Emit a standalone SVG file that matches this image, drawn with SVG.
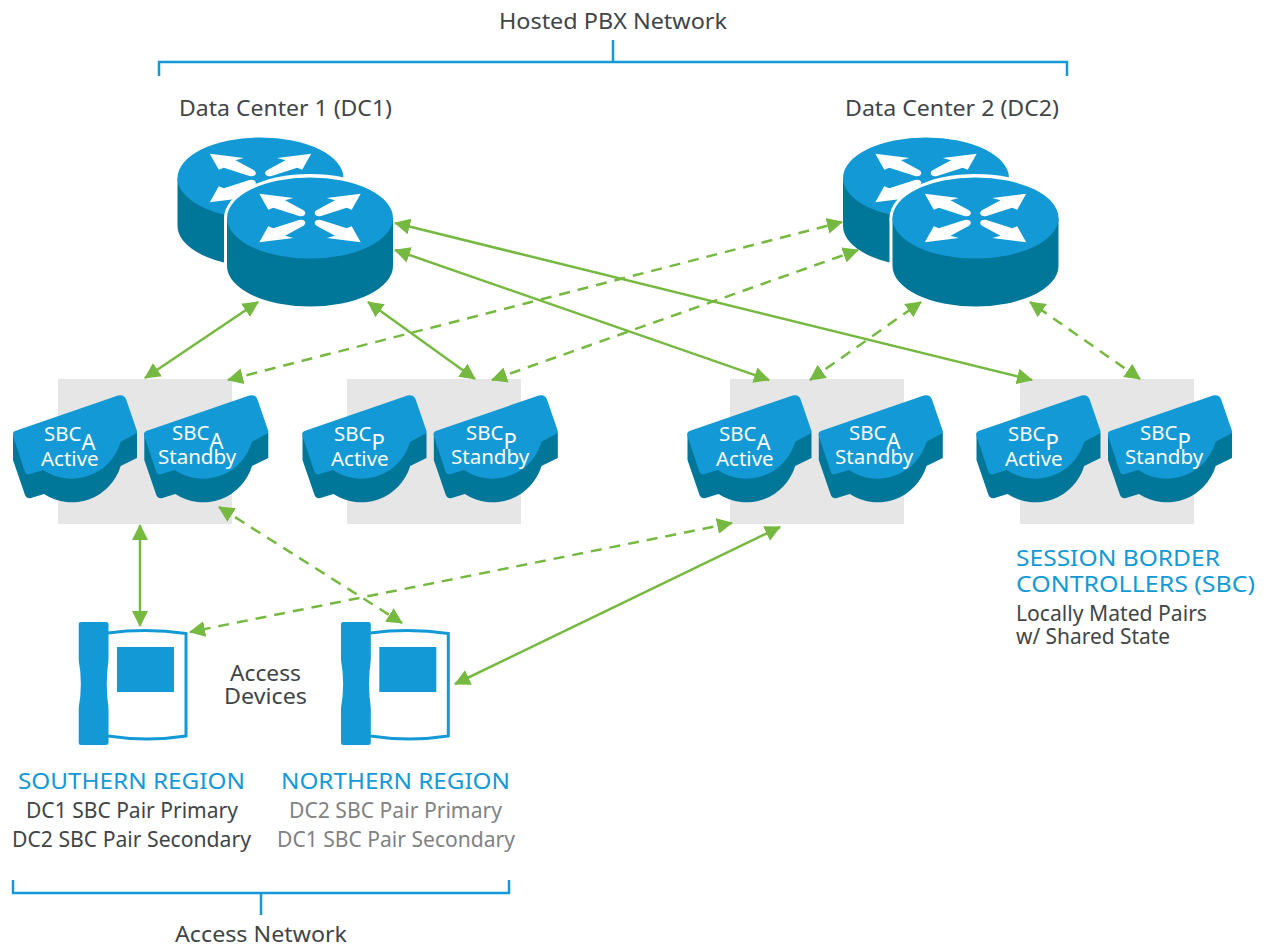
<svg xmlns="http://www.w3.org/2000/svg" xmlns:xlink="http://www.w3.org/1999/xlink" width="1267" height="947" viewBox="0 0 1267 947">
<style>
text{font-family:"Noto Sans","Open Sans",sans-serif;font-size:22px;fill:#414546}
.blue{fill:#139ad6}.grey{fill:#808284}
.s{font-size:20.5px;fill:#fff}
.sub{font-size:22px;fill:#fff}
.bracket{fill:none;stroke:#139ad6;stroke-width:2.5}
.bg{fill:#e6e6e6}
.top{fill:#139ad6}.side{fill:#007799}
.c{stroke:#76b941;stroke-width:2.5;fill:none;marker-start:url(#ah);marker-end:url(#ah)}
.d{stroke-dasharray:11 8}
</style>
<defs>
<marker id="ah" markerUnits="userSpaceOnUse" markerWidth="18" markerHeight="18" refX="15" refY="9" orient="auto-start-reverse" viewBox="0 0 18 18"><path d="M0 1 L16 9 L0 17 Z" fill="#76b941"/></marker>
<path id="ra" d="M-50.7-24.3 L-16.7-20 L-25-17.7 L-6.5-7.7 Q-3-5-6-2.5 Q-8-1.3-11-2 L-36.7-10.3 L-41.7-8.3 Z" fill="#fff"/>
<g id="router">
<path class="side" d="M-83 0 V48 A83 40.5 0 0 0 83 48 V0 Z"/>
<ellipse class="top" rx="83" ry="40.5"/>
<use xlink:href="#ra"/><use xlink:href="#ra" transform="scale(-1 1)"/><use xlink:href="#ra" transform="scale(1 -1)"/><use xlink:href="#ra" transform="scale(-1 -1)"/>
</g>
<g id="sbc">
<path class="side" d="M13 433 V460 L25 495 Q27 499 31 498 L44 494 A51 51 0 0 0 120.700 466 L137 458 V433 Z"/>
<path class="top" d="M13 433 Q13 432 15 431 L118 395.500 Q124 394 126 399 L137 431 V433 L120.700 441.700 A51 51 0 0 1 43.300 470 L30 474 Q26 475 25 472 L13 436 Z"/>
</g>
<g id="phone">
<path d="M108 633 Q147 628 186 633.500 V736 Q147 742 108 736" fill="#fff" stroke="#139ad6" stroke-width="3"/>
<rect x="117" y="647" width="57" height="45" fill="#139ad6"/>
<path d="M81 622 H106 Q108.500 622 108.500 624 V660 Q105 684 108.500 708 V743 Q108.500 745 106 745 H81 Q78.700 745 78.700 743 V708 Q83 684 78.700 660 V624 Q78.700 622 81 622 Z" fill="#139ad6"/>
</g>
</defs>
<g id="bracket-top"><path class="bracket" d="M159 76 V62 H1067 V76 M613 40 V62"/><text x="499" y="29" textLength="228" lengthAdjust="spacingAndGlyphs">Hosted PBX Network</text></g>
<g id="dc1">
<use xlink:href="#router" x="260.500" y="178"/>
<ellipse cx="310" cy="218" rx="86" ry="44" fill="#fff"/><rect x="224" y="218" width="172" height="48" fill="#fff"/>
<use xlink:href="#router" x="310" y="218"/>
<text x="179" y="116" textLength="213" lengthAdjust="spacingAndGlyphs">Data Center 1 (DC1)</text></g>
<g id="dc2">
<use xlink:href="#router" x="926" y="178"/>
<ellipse cx="975.500" cy="218" rx="86" ry="44" fill="#fff"/><rect x="889.500" y="218" width="172" height="48" fill="#fff"/>
<use xlink:href="#router" x="975.500" y="218"/>
<text x="845" y="116" textLength="214" lengthAdjust="spacingAndGlyphs">Data Center 2 (DC2)</text></g>
<g id="pairs-bg"><rect class="bg" x="58" y="379" width="174" height="145"/><rect class="bg" x="347" y="379" width="174" height="145"/><rect class="bg" x="730" y="379" width="174" height="145"/><rect class="bg" x="1020" y="379" width="174" height="145"/></g>
<g id="sbc1"><use xlink:href="#sbc"/><text class="s" x="44" y="441">SBC<tspan class="sub" dy="9">A</tspan></text><text class="s" x="41" y="466">Active</text></g>
<g id="sbc2"><use xlink:href="#sbc" x="131.300"/><text class="s" x="172" y="440">SBC<tspan class="sub" dy="9">A</tspan></text><text class="s" x="158" y="464">Standby</text></g>
<g id="sbc3"><use xlink:href="#sbc" x="289.500"/><text class="s" x="334" y="441">SBC<tspan class="sub" dy="9">P</tspan></text><text class="s" x="331" y="466">Active</text></g>
<g id="sbc4"><use xlink:href="#sbc" x="420.800"/><text class="s" x="466" y="440">SBC<tspan class="sub" dy="9">P</tspan></text><text class="s" x="451" y="464">Standby</text></g>
<g id="sbc5"><use xlink:href="#sbc" x="674.500"/><text class="s" x="719" y="441">SBC<tspan class="sub" dy="9">A</tspan></text><text class="s" x="716" y="466">Active</text></g>
<g id="sbc6"><use xlink:href="#sbc" x="805.800"/><text class="s" x="849" y="440">SBC<tspan class="sub" dy="9">A</tspan></text><text class="s" x="835" y="464">Standby</text></g>
<g id="sbc7"><use xlink:href="#sbc" x="963.500"/><text class="s" x="1008" y="441">SBC<tspan class="sub" dy="9">P</tspan></text><text class="s" x="1005" y="466">Active</text></g>
<g id="sbc8"><use xlink:href="#sbc" x="1095"/><text class="s" x="1140" y="440">SBC<tspan class="sub" dy="9">P</tspan></text><text class="s" x="1125" y="464">Standby</text></g>
<g id="phone1"><use xlink:href="#phone"/></g>
<g id="phone2"><use xlink:href="#phone" x="262.300"/></g>
<g id="connectors">
<line class="c" x1="145" y1="378" x2="258" y2="302"/>
<line class="c" x1="475" y1="379" x2="368" y2="302"/>
<line class="c" x1="395" y1="250" x2="769" y2="380"/>
<line class="c" x1="395" y1="223" x2="1032" y2="380"/>
<line class="c" x1="140" y1="525" x2="140" y2="626"/>
<line class="c" x1="780" y1="527" x2="455" y2="684"/>
<line class="c d" x1="228" y1="380" x2="842" y2="222"/>
<line class="c d" x1="492" y1="380" x2="858" y2="250"/>
<line class="c d" x1="810" y1="380" x2="921" y2="302"/>
<line class="c d" x1="1140" y1="379" x2="1030" y2="302"/>
<line class="c d" x1="219" y1="507" x2="402" y2="623"/>
<line class="c d" x1="732" y1="523" x2="190" y2="632"/>
</g>
<g id="labels">
<text x="230" y="681" textLength="71" lengthAdjust="spacingAndGlyphs">Access</text>
<text x="224" y="704" textLength="83" lengthAdjust="spacingAndGlyphs">Devices</text>
<text class="blue" x="18" y="789" textLength="227" lengthAdjust="spacingAndGlyphs">SOUTHERN REGION</text>
<text x="26" y="818" textLength="212" lengthAdjust="spacingAndGlyphs">DC1 SBC Pair Primary</text>
<text x="12" y="847" textLength="239" lengthAdjust="spacingAndGlyphs">DC2 SBC Pair Secondary</text>
<text class="blue" x="281" y="789" textLength="229" lengthAdjust="spacingAndGlyphs">NORTHERN REGION</text>
<text class="grey" x="289" y="818" textLength="213" lengthAdjust="spacingAndGlyphs">DC2 SBC Pair Primary</text>
<text class="grey" x="277" y="847" textLength="238" lengthAdjust="spacingAndGlyphs">DC1 SBC Pair Secondary</text>
<text class="blue" x="1016" y="566" textLength="204" lengthAdjust="spacingAndGlyphs">SESSION BORDER</text>
<text class="blue" x="1016" y="592" textLength="239" lengthAdjust="spacingAndGlyphs">CONTROLLERS (SBC)</text>
<text x="1016" y="621" textLength="191" lengthAdjust="spacingAndGlyphs">Locally Mated Pairs</text>
<text x="1016" y="644" textLength="154" lengthAdjust="spacingAndGlyphs">w/ Shared State</text>
</g>
<g id="bracket-bottom"><path class="bracket" d="M13 880 V893 H509 V880 M261 893 V915"/><text x="175" y="942" textLength="172" lengthAdjust="spacingAndGlyphs">Access Network</text></g>
</svg>
